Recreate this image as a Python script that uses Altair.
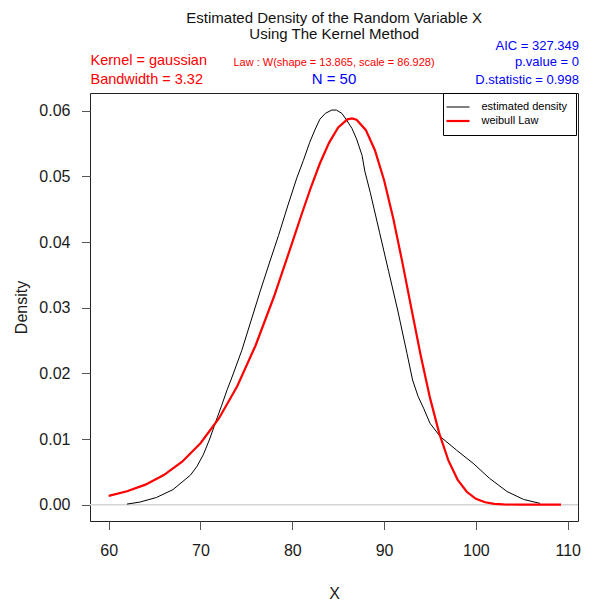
import altair as alt
import pandas as pd

FONT = "Liberation Sans"

# ---- data ----
series_names = ["estimated density", "weibull Law"]

kde_x = [62.0, 63.4, 65.2, 67.0, 68.9, 69.6, 70.3, 71.0, 71.6, 72.3, 72.9, 73.4,
         74.5, 75.5, 76.5, 77.5, 78.5, 79.5, 80.5, 81.2, 81.9, 82.5, 83.0, 83.6,
         84.3, 84.8, 85.4, 85.9, 86.5, 87.0, 87.6, 87.9, 88.5, 89.5, 90.5, 91.5,
         92.5, 93.1, 93.7, 94.3, 95.0, 96.1, 97.9, 99.7, 101.5, 103.4, 105.2, 107.0]
kde_y = [0.0001, 0.0004, 0.0011, 0.0023, 0.0045, 0.0058, 0.0076, 0.0100, 0.0124,
         0.0151, 0.0175, 0.0193, 0.0235, 0.0280, 0.0325, 0.0368, 0.0410, 0.0455,
         0.0498, 0.0524, 0.0552, 0.0572, 0.0587, 0.0596, 0.0601, 0.0601, 0.0596,
         0.0586, 0.0573, 0.0557, 0.0532, 0.0508, 0.0475, 0.0415, 0.0355, 0.0295,
         0.0230, 0.0190, 0.0165, 0.0147, 0.0124, 0.0104, 0.0083, 0.0063, 0.0040,
         0.0020, 0.0008, 0.0002]

weib_x = [60, 62, 64, 66, 68, 70, 72, 74, 76, 78, 80, 81, 82, 83, 84, 85, 86, 86.5,
          87, 88, 89, 90, 91, 92, 93, 94, 95, 96, 97, 98, 99, 100, 101, 102, 103,
          105, 107, 109.27]
weib_y = [0.00135, 0.00204, 0.00306, 0.00451, 0.00655, 0.00936, 0.01313, 0.01805,
          0.02425, 0.03167, 0.03994, 0.04416, 0.04823, 0.05196, 0.05511, 0.05744,
          0.05869, 0.05883, 0.05862, 0.05708, 0.05399, 0.04942, 0.04358, 0.03683,
          0.02968, 0.02266, 0.01627, 0.01090, 0.00675, 0.00383, 0.00197, 0.00090,
          0.00037, 0.00013, 0.00004, 0.0, 0.0, 0.0]

x_ticks = [60, 70, 80, 90, 100, 110]
y_ticks = [0.0, 0.01, 0.02, 0.03, 0.04, 0.05, 0.06]

title_lines = ["Estimated Density of the Random Variable X", "Using The Kernel Method"]
kernel_text = "Kernel = gaussian"
bandwidth_text = "Bandwidth = 3.32"
law_text = "Law : W(shape = 13.865, scale = 86.928)"
n_text = "N = 50"
aic_text = "AIC = 327.349"
pvalue_text = "p.value = 0"
dstat_text = "D.statistic = 0.998"
x_title = "X"
y_title = "Density"

# ---- tables ----
df = pd.concat([
    pd.DataFrame({"x": kde_x, "y": kde_y, "series": series_names[0],
                  "order": range(len(kde_x))}),
    pd.DataFrame({"x": weib_x, "y": weib_y, "series": series_names[1],
                  "order": range(len(weib_x))}),
], ignore_index=True)

W, H = 488, 428
x_scale = alt.Scale(domain=[57.963, 111.122], nice=False, zero=False)
y_scale = alt.Scale(domain=[-0.00248, 0.0627], nice=False, zero=False)

leg = alt.Legend(
    title=None, orient="none", legendX=353, legendY=0,
    symbolType="M-2.3,0H2.3", symbolSize=100,
    labelFont=FONT, labelFontSize=11, labelColor="black", labelOffset=17,
    rowPadding=2, padding=8.5, strokeColor="black", fillColor="white",
    labelLimit=300,
)

zero_line = alt.Chart(pd.DataFrame({"v": [0]})).mark_rule(
    color="#D3D3D3", strokeWidth=1.5
).encode(y=alt.datum(0))

lines = alt.Chart(df).mark_line(interpolate="linear").encode(
    x=alt.X("x:Q", scale=x_scale,
            axis=alt.Axis(values=x_ticks, format="d", title=x_title,
                          titleY=77, titleBaseline="alphabetic",
                          labelPadding=13, labelFlush=False)),
    y=alt.Y("y:Q", scale=y_scale,
            axis=alt.Axis(values=y_ticks, format=".2f", title=y_title,
                          titleX=-63.5, titleBaseline="alphabetic",
                          labelPadding=11.5, labelFlush=False)),
    color=alt.Color("series:N",
                    scale=alt.Scale(domain=series_names, range=["black", "#FF0000"]),
                    legend=leg),
    strokeWidth=alt.StrokeWidth("series:N",
                                scale=alt.Scale(domain=series_names, range=[1, 2.2]),
                                legend=leg),
    order="order:Q",
)


def label(text, x, y, color, size, align):
    return alt.Chart(pd.DataFrame({"t": [text]})).mark_text(
        align=align, baseline="alphabetic", font=FONT, fontSize=size, color=color
    ).encode(x=alt.value(x), y=alt.value(y), text="t:N")


texts = [
    label(title_lines[0], 244.2, -69.7, "#111111", 15, "center"),
    label(title_lines[1], 244.2, -53.7, "#111111", 15, "center"),
    label(kernel_text, 0.5, -28, "#FF0000", 14.5, "left"),
    label(bandwidth_text, 0.5, -8.7, "#FF0000", 14.5, "left"),
    label(law_text, 244, -27.5, "#FF0000", 11, "center"),
    label(n_text, 244, -9, "#0000FF", 15, "center"),
    label(aic_text, 489, -43, "#0000FF", 13, "right"),
    label(pvalue_text, 489, -27, "#0000FF", 13, "right"),
    label(dstat_text, 489, -9, "#0000FF", 13, "right"),
]

chart = alt.layer(zero_line, lines, *texts).properties(
    width=W, height=H,
    padding={"left": 90, "top": 93, "right": 17, "bottom": 81},
    autosize=alt.AutoSizeParams(type="none"),
).configure_view(
    stroke="#222222", strokeWidth=1
).configure_axis(
    domain=False, grid=False, ticks=True, tickColor="#555555", tickWidth=1,
    tickSize=8.5, labelFont=FONT, labelFontSize=16, labelColor="#1a1a1a",
    titleFont=FONT, titleFontSize=16, titleFontWeight="normal", titleColor="#1a1a1a",
)

chart.save("out.html", embed_options={"renderer": "svg", "actions": False})
